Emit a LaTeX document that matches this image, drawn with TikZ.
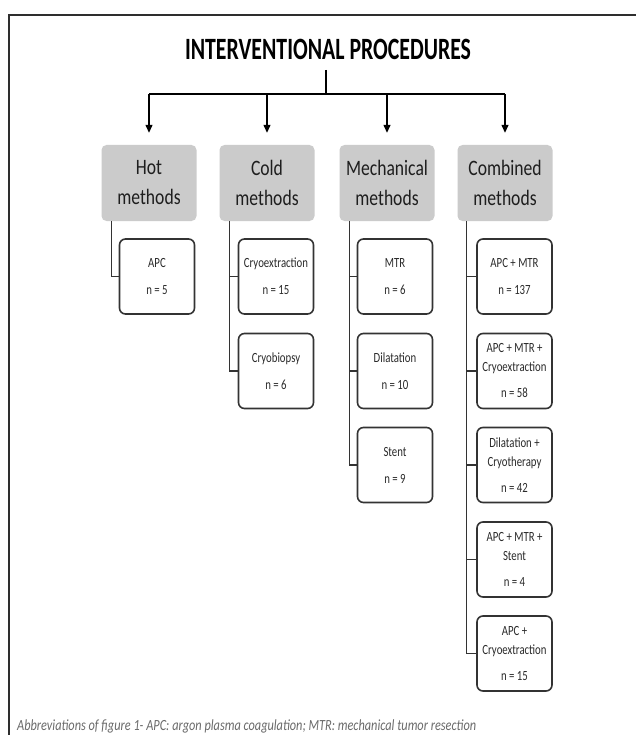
\documentclass[tikz,border=0pt]{standalone}
\usepackage{fontspec}
\usepackage{graphicx}
\setmainfont{Carlito}
\newfontfamily\catfont[FakeStretch=0.80]{Carlito}
\newfontfamily\subfont[FakeStretch=0.77]{Carlito}
\usetikzlibrary{arrows.meta}
\definecolor{framec}{HTML}{2E2E2E}
\definecolor{catgray}{HTML}{CBCBCB}
\definecolor{cattxt}{HTML}{1E1E1E}
\definecolor{boxline}{HTML}{333333}
\definecolor{subtxt}{HTML}{2A2A2A}
\definecolor{captxt}{HTML}{6A6A6A}
\newlength\fitlen
\newcommand\fitw[2]{\settowidth\fitlen{#2}\pgfmathsetmacro\fitfac{#1/\fitlen}\scalebox{\fitfac}[1]{#2}}
\tikzset{
  catbox/.style={fill=catgray, rounded corners=5pt, minimum width=95pt, minimum height=76pt,
    inner sep=0pt, align=center, text=cattxt, font=\catfont\fontsize{22}{30}\selectfont},
  subbox/.style={draw=boxline, line width=1.6pt, rounded corners=6pt, minimum width=75pt,
    minimum height=75pt, inner sep=0pt, align=center, text=subtxt,
    font=\subfont\fontsize{14}{19}\selectfont},
  conn/.style={draw=boxline, line width=1.6pt},
  arr/.style={draw=black, line width=1.3pt, -{Triangle[width=7pt,length=8pt]}},
}
\begin{document}
\begin{tikzpicture}[x=1pt,y=-1pt]
\fill[white] (0,0) rectangle (636,735);
\useasboundingbox (0,0) rectangle (636,735);
% frame
\draw[framec, line width=2pt] (9,736) -- (9,15) -- (637,15);
% title
\node[anchor=base, inner sep=0pt, text=black, font=\bfseries\fontsize{31}{31}\selectfont]
  (title) at (328,60) {\fitw{286}{INTERVENTIONAL PROCEDURES}};
\coordinate (bus) at (326,94);
% categories
\node[catbox] (hot)  at (149,183) {Hot\\methods};
\node[catbox] (cold) at (267,183) {Cold\\methods};
\node[catbox] (mech) at (387,183) {Mechanical\\methods};
\node[catbox] (comb) at (505,183) {Combined\\methods};
% connectors from title
\draw[line width=1.3pt] ([yshift=-10pt]title.base -| bus) -- (bus);
\draw[line width=1.3pt] (hot.north |- bus) -- (comb.north |- bus);
\foreach \c in {hot,cold,mech,comb}
  \draw[arr] (\c.north |- bus) -- ([yshift=12pt]\c.north);
% sub boxes
\node[subbox] (apc)      at (157,276.5) {APC\\[8pt]n = 5};
\node[subbox] (cryoext)  at (276,276.5) {Cryoextraction\\[8pt]n = 15};
\node[subbox] (cryobio)  at (276,371) {Cryobiopsy\\[8pt]n = 6};
\node[subbox] (mtr)      at (395,276.5) {MTR\\[8pt]n = 6};
\node[subbox] (dil)      at (395,371) {Dilatation\\[8pt]n = 10};
\node[subbox] (stent)    at (395,465) {Stent\\[8pt]n = 9};
\node[subbox] (apcmtr)   at (514.5,276.5) {APC + MTR\\[8pt]n = 137};
\node[subbox] (apcmtrcryo) at (514.5,371) {APC + MTR +\\Cryoextraction\\[7pt]n = 58};
\node[subbox] (dilcryo)  at (514.5,465) {Dilatation +\\Cryotherapy\\[7pt]n = 42};
\node[subbox] (apcmtrstent) at (514.5,559.5) {APC + MTR +\\Stent\\[7pt]n = 4};
\node[subbox] (apccryo)  at (514.5,653.5) {APC +\\Cryoextraction\\[7pt]n = 15};
% tree connectors
\draw[conn] ([xshift=10pt]hot.south west) |- (apc.west);
\foreach \s in {cryoext,cryobio}
  \draw[conn] ([xshift=10pt]cold.south west) |- (\s.west);
\foreach \s in {mtr,dil,stent}
  \draw[conn] ([xshift=10pt]mech.south west) |- (\s.west);
\foreach \s in {apcmtr,apcmtrcryo,dilcryo,apcmtrstent,apccryo}
  \draw[conn] ([xshift=9pt]comb.south west) |- (\s.west);
% caption
\node[anchor=base west, inner sep=0pt, text=captxt, font=\itshape\fontsize{15.5}{16}\selectfont]
  (caption) at (17,730) {\fitw{459}{Abbreviations of figure 1- APC: argon plasma coagulation; MTR: mechanical tumor resection}};
\end{tikzpicture}
\end{document}
